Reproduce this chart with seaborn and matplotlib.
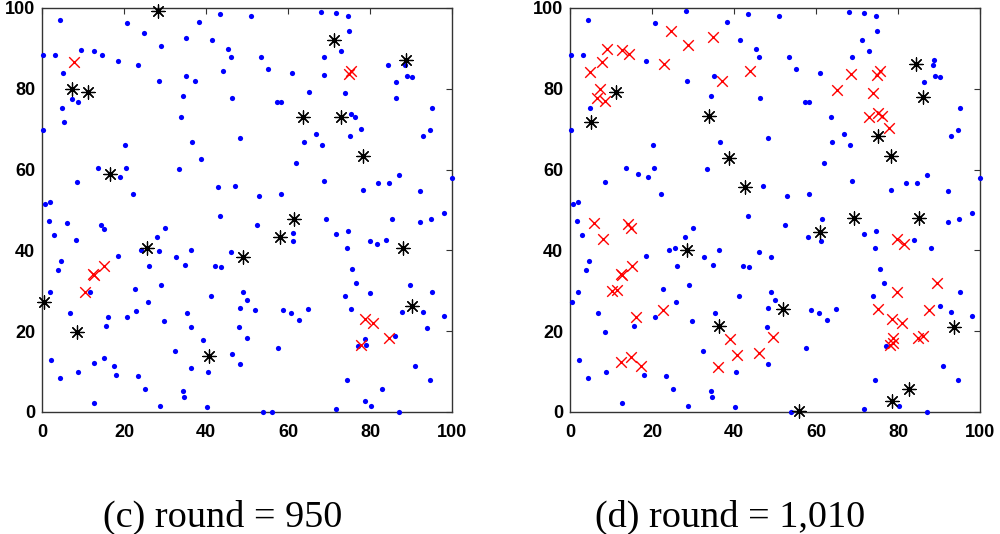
import numpy as np
import seaborn as sns
import matplotlib.pyplot as plt

# sensor node positions (blue dots in round 950), split by quadrant
nodes_nw = [(4.5, 96.9), (0.2, 88.3), (3.1, 88.3), (5.1, 84.0), (9.4, 89.7), (12.8, 89.4),
            (14.7, 88.4), (18.6, 86.8), (20.8, 96.2), (24.9, 93.9), (23.3, 86.0), (29.1, 90.7),
            (28.5, 81.8), (35.0, 92.5), (38.3, 96.6), (43.3, 98.6), (41.4, 92.0), (45.3, 89.8),
            (46.0, 87.8), (44.2, 84.3), (35.1, 83.2), (37.3, 81.8), (34.3, 78.3), (46.3, 77.8),
            (7.2, 77.4), (8.9, 76.8), (4.9, 75.2), (5.4, 71.7), (0.3, 69.8), (34.0, 73.0),
            (48.3, 67.7), (20.3, 66.2), (36.7, 66.7), (38.9, 62.7), (13.7, 60.3), (20.6, 60.3),
            (33.3, 60.2), (19.1, 58.2), (8.5, 56.8), (42.9, 55.7), (47.0, 56.0), (22.1, 54.0),
            (0.7, 51.6), (1.9, 52.0), (43.3, 48.6)]
nodes_ne = [(51.0, 98.0), (68.0, 98.9), (71.8, 98.8), (74.6, 98.1), (74.8, 94.2), (53.3, 87.8),
            (55.0, 84.8), (61.0, 83.8), (68.7, 87.9), (73.0, 89.3), (68.8, 83.4), (84.3, 86.0),
            (88.5, 85.8), (86.4, 81.7), (89.1, 83.1), (90.2, 83.0), (86.4, 77.8), (65.1, 79.3),
            (74.0, 78.9), (57.2, 76.8), (58.4, 76.8), (95.2, 75.2), (75.3, 73.7), (76.4, 73.0),
            (77.8, 70.0), (75.2, 68.3), (66.8, 68.8), (68.2, 66.1), (64.0, 66.7), (93.0, 68.4),
            (94.6, 69.8), (62.0, 61.6), (68.9, 57.1), (87.0, 58.7), (82.0, 56.6), (84.6, 56.6),
            (78.2, 54.9), (92.2, 54.8), (99.9, 58.0), (52.9, 53.5), (58.3, 53.9), (98.0, 49.3)]
nodes_sw = [(1.6, 47.2), (6.0, 46.7), (14.4, 46.4), (15.0, 45.3), (3.0, 43.8), (8.3, 42.5),
            (30.1, 45.6), (28.1, 43.4), (18.5, 38.7), (24.1, 40.1), (28.6, 39.8), (32.8, 38.3),
            (34.9, 36.3), (36.4, 40.1), (26.0, 36.1), (4.6, 37.4), (4.0, 35.1), (46.1, 39.7),
            (42.3, 36.1), (43.6, 35.8), (2.0, 29.7), (11.7, 29.8), (29.0, 31.4), (22.8, 30.4),
            (25.8, 27.2), (41.1, 28.7), (49.0, 29.7), (48.4, 25.8), (50.1, 27.6), (6.8, 24.5),
            (16.2, 23.5), (15.6, 21.2), (20.7, 23.4), (23.0, 25.0), (29.8, 22.6), (35.4, 24.4),
            (36.3, 21.0), (39.3, 17.9), (48.1, 21.1), (50.0, 18.4), (32.5, 15.0), (46.3, 14.3),
            (48.3, 11.9), (36.3, 10.9), (40.4, 10.0), (2.3, 12.8), (4.5, 8.4), (8.8, 9.8),
            (12.8, 12.0), (15.1, 13.3), (17.5, 11.3), (18.0, 9.2), (23.5, 8.9), (25.2, 5.7),
            (34.4, 5.2), (34.7, 3.8), (12.8, 2.3), (28.8, 1.5), (40.2, 1.2)]
nodes_se = [(52.5, 46.3), (61.1, 44.3), (61.2, 42.3), (69.3, 47.7), (71.8, 44.0), (74.6, 44.7),
            (74.4, 40.6), (80.0, 42.4), (81.7, 41.6), (84.0, 42.6), (85.3, 47.7), (92.3, 47.0),
            (94.9, 47.7), (75.5, 35.5), (76.6, 31.9), (80.1, 29.5), (73.9, 28.7), (89.7, 31.5),
            (95.2, 29.7), (75.4, 25.4), (87.8, 24.8), (93.0, 24.7), (98.1, 23.7), (93.8, 20.7),
            (52.0, 25.3), (58.7, 25.2), (60.7, 24.5), (64.8, 25.5), (62.7, 22.7), (57.5, 15.9),
            (78.9, 18.1), (79.1, 16.6), (77.1, 16.4), (86.1, 18.7), (91.0, 11.3), (94.6, 7.9),
            (74.5, 8.0), (82.9, 5.6), (78.7, 2.6), (80.2, 1.4), (71.7, 0.7), (53.9, 0.0),
            (56.1, 0.1), (87.1, 0.0)]

# round 950
stars_c = [(28.3, 99.3), (7.2, 80.0), (11.1, 79.3), (16.7, 59.0), (71.1, 92.0), (88.7, 87.0),
           (63.7, 73.0), (73.0, 73.0), (78.3, 63.4), (25.6, 40.6), (49.0, 38.3), (0.5, 27.2),
           (8.5, 19.9), (40.7, 13.9), (61.5, 47.7), (58.0, 43.3), (88.0, 40.6), (90.2, 26.3)]
crosses_c = [(7.9, 86.7), (74.8, 83.7), (75.3, 84.5), (12.4, 34.2), (12.7, 33.9), (15.0, 36.2),
             (10.4, 29.7), (78.7, 23.0), (80.8, 22.1), (77.9, 16.5), (84.7, 18.2)]

# round 1,010
stars_d = [(11.1, 79.3), (5.1, 71.8), (33.8, 73.2), (38.8, 62.9), (42.8, 55.8), (84.3, 86.2),
           (86.2, 78.0), (75.1, 68.4), (78.3, 63.4), (28.5, 40.2), (36.3, 21.2), (69.2, 47.9),
           (85.2, 48.0), (61.0, 44.5), (51.9, 25.4), (93.6, 21.0), (82.7, 5.8), (78.5, 2.6),
           (55.9, 0.2)]
crosses_d = [(24.6, 94.2), (34.8, 92.8), (28.9, 90.9), (9.0, 89.8), (12.6, 89.7), (14.4, 88.6),
             (7.9, 86.6), (23.0, 86.2), (4.9, 84.2), (44.0, 84.5), (37.1, 82.0), (7.2, 80.0),
             (6.7, 77.6), (8.6, 77.0), (68.6, 83.7), (74.9, 83.4), (75.6, 84.5), (65.0, 79.6),
             (73.9, 79.0), (75.1, 73.9), (76.1, 73.2), (72.9, 73.0), (77.7, 70.2),
             (5.8, 46.8), (14.2, 46.6), (14.9, 45.5), (8.0, 42.8), (15.2, 36.2), (12.4, 34.2),
             (12.7, 33.9), (10.2, 29.9), (11.5, 30.2), (22.7, 25.2), (16.0, 23.5), (39.1, 18.1),
             (40.7, 14.0), (46.1, 14.5), (49.6, 18.5), (12.4, 12.3), (14.9, 13.5), (17.3, 11.4),
             (36.2, 11.1), (79.8, 42.7), (81.4, 41.6), (89.6, 31.9), (79.8, 29.8), (75.2, 25.6),
             (87.6, 25.2), (78.6, 23.0), (80.9, 22.1), (78.8, 18.2), (78.1, 16.7), (78.9, 17.1),
             (84.8, 18.4), (86.1, 18.8)]

rounds = [("(c) round = 950", stars_c, crosses_c),
          ("(d) round = 1,010", stars_d, crosses_d)]
captions_x = [0.223, 0.730]
axes_left = [0.042, 0.570]

sns.set_style("white")
plt.rcParams["font.family"] = ["Liberation Sans", "DejaVu Sans"]

nodes = np.array(nodes_nw + nodes_ne + nodes_sw + nodes_se + stars_c + crosses_c)

fig = plt.figure(figsize=(10, 5.34), dpi=100)

for (caption, stars, crosses), left, cx in zip(rounds, axes_left, captions_x):
    ax = fig.add_axes([left, 0.2285, 0.41, 0.7566])
    stars = np.array(stars)
    crosses = np.array(crosses)

    # a node drawn as star or cross is not drawn as a dot
    show = np.ones(len(nodes), dtype=bool)
    for p in np.vstack([stars, crosses]):
        show[np.argmin(((nodes - p) ** 2).sum(axis=1))] = False

    sns.scatterplot(x=nodes[show, 0], y=nodes[show, 1], color="#0000ff", s=14,
                    linewidth=0, ax=ax, clip_on=False, zorder=3)
    sns.scatterplot(x=crosses[:, 0], y=crosses[:, 1], color="#ff0000", marker="x",
                    s=58, linewidth=1.0, ax=ax, clip_on=False, zorder=4)
    sns.scatterplot(x=stars[:, 0], y=stars[:, 1], color="black", marker=(8, 2, 0),
                    s=90, linewidth=0.9, ax=ax, clip_on=False, zorder=5)
    sns.scatterplot(x=stars[:, 0], y=stars[:, 1], color="black", s=12,
                    linewidth=0, ax=ax, clip_on=False, zorder=6)

    ax.set_xlim(0, 100)
    ax.set_ylim(0, 100)
    ax.set_xticks(range(0, 101, 20))
    ax.set_yticks(range(0, 101, 20))
    ax.tick_params(direction="in", length=4, width=0.8, top=True, right=True,
                   labelsize=13, color="#333333", labelcolor="black")
    ax.tick_params(axis="x", pad=9)
    ax.tick_params(axis="y", pad=5)
    for lab in ax.get_xticklabels() + ax.get_yticklabels():
        lab.set_fontweight("bold")
    for sp in ax.spines.values():
        sp.set_color("#333333")
        sp.set_linewidth(1.0)

    fig.text(cx, 0.014, caption, ha="center", va="baseline", color="black",
             fontsize=27.5, family=["Liberation Serif", "DejaVu Serif"])

fig.savefig("out.png", dpi=100)
